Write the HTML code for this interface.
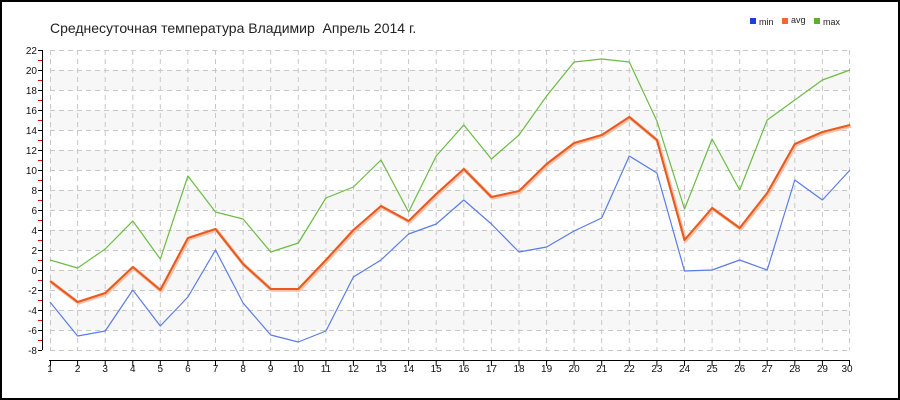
<!DOCTYPE html>
<html><head><meta charset="utf-8"><style>
body{margin:0;background:#fff}
svg{display:block;font-family:"Liberation Sans",sans-serif}
</style></head><body>
<svg width="900" height="400" viewBox="0 0 900 400">
<rect x="1" y="1" width="898" height="398" fill="#fff" stroke="#000" stroke-width="2"/>
<text x="50" y="33" font-size="14" fill="#222" style="white-space:pre">Среднесуточная температура Владимир&#160; Апрель 2014 г.</text>
<g font-size="9" fill="#222">
<rect x="750" y="18" width="6" height="6" fill="#1a3fe0"/><text x="759" y="25">min</text>
<rect x="782" y="18" width="6" height="6" fill="#ee6a2a"/><text x="791" y="23">avg</text>
<rect x="814" y="18" width="6" height="6" fill="#5bb030"/><text x="823" y="25">max</text>
</g>
<g fill="#f7f7f7">
<rect x="50" y="70" width="800" height="20"/><rect x="50" y="110" width="800" height="20"/>
<rect x="50" y="150" width="800" height="20"/><rect x="50" y="190" width="800" height="20"/>
<rect x="50" y="230" width="800" height="20"/><rect x="50" y="270" width="800" height="20"/>
<rect x="50" y="310" width="800" height="20"/>
</g>
<g stroke="#c8c8c8" stroke-width="1" stroke-dasharray="5,4" fill="none">
<path d="M50 50.5H850M50 70.5H850M50 90.5H850M50 110.5H850M50 130.5H850M50 150.5H850M50 170.5H850M50 190.5H850M50 210.5H850M50 230.5H850M50 250.5H850M50 270.5H850M50 290.5H850M50 310.5H850M50 330.5H850M50 350.5H850"/>
<path d="M50.5 50V350M77.6 50V350M105.2 50V350M132.8 50V350M160.3 50V350M187.9 50V350M215.5 50V350M243.1 50V350M270.7 50V350M298.3 50V350M325.9 50V350M353.4 50V350M381 50V350M408.6 50V350M436.2 50V350M463.8 50V350M491.4 50V350M519 50V350M546.6 50V350M574.1 50V350M601.7 50V350M629.3 50V350M656.9 50V350M684.5 50V350M712.1 50V350M739.7 50V350M767.2 50V350M794.8 50V350M822.4 50V350M849.5 50V350"/>
</g>
<g stroke="#000" stroke-width="1" fill="none">
<path d="M42.5 50V350M49 360.5H850"/>
<path d="M38 50.5H42M38 70.5H42M38 90.5H42M38 110.5H42M38 130.5H42M38 150.5H42M38 170.5H42M38 190.5H42M38 210.5H42M38 230.5H42M38 250.5H42M38 270.5H42M38 290.5H42M38 310.5H42M38 330.5H42M38 350.5H42"/>
<path d="M50.5 360V366M77.6 360V366M105.2 360V366M132.8 360V366M160.3 360V366M187.9 360V366M215.5 360V366M243.1 360V366M270.7 360V366M298.3 360V366M325.9 360V366M353.4 360V366M381 360V366M408.6 360V366M436.2 360V366M463.8 360V366M491.4 360V366M519 360V366M546.6 360V366M574.1 360V366M601.7 360V366M629.3 360V366M656.9 360V366M684.5 360V366M712.1 360V366M739.7 360V366M767.2 360V366M794.8 360V366M822.4 360V366M849.5 360V366"/>
</g>
<path stroke="#e00" stroke-width="1" d="M38 60.5H42M38 80.5H42M38 100.5H42M38 120.5H42M38 140.5H42M38 160.5H42M38 180.5H42M38 200.5H42M38 220.5H42M38 240.5H42M38 260.5H42M38 280.5H42M38 300.5H42M38 320.5H42M38 340.5H42"/>
<g font-size="10" fill="#111" text-anchor="end">
<text x="37" y="54">22</text><text x="37" y="74">20</text><text x="37" y="94">18</text><text x="37" y="114">16</text><text x="37" y="134">14</text><text x="37" y="154">12</text><text x="37" y="174">10</text><text x="37" y="194">8</text><text x="37" y="214">6</text><text x="37" y="234">4</text><text x="37" y="254">2</text><text x="37" y="274">0</text><text x="37" y="294">-2</text><text x="37" y="314">-4</text><text x="37" y="334">-6</text><text x="37" y="354">-8</text>
</g>
<g font-size="10" fill="#111" text-anchor="middle">
<text x="50" y="372">1</text><text x="77.6" y="372">2</text><text x="105.2" y="372">3</text><text x="132.8" y="372">4</text><text x="160.3" y="372">5</text><text x="187.9" y="372">6</text><text x="215.5" y="372">7</text><text x="243.1" y="372">8</text><text x="270.7" y="372">9</text><text x="298.3" y="372">10</text><text x="325.9" y="372">11</text><text x="353.4" y="372">12</text><text x="381" y="372">13</text><text x="408.6" y="372">14</text><text x="436.2" y="372">15</text><text x="463.8" y="372">16</text><text x="491.4" y="372">17</text><text x="519" y="372">18</text><text x="546.6" y="372">19</text><text x="574.1" y="372">20</text><text x="601.7" y="372">21</text><text x="629.3" y="372">22</text><text x="656.9" y="372">23</text><text x="684.5" y="372">24</text><text x="712.1" y="372">25</text><text x="739.7" y="372">26</text><text x="767.2" y="372">27</text><text x="794.8" y="372">28</text><text x="822.4" y="372">29</text><text x="847" y="372">30</text>
</g>
<g fill="none" stroke-linejoin="round">
<polyline stroke="#5a7ce8" stroke-width="1.2" points="50,302 77.6,336 105.2,331 132.8,290 160.3,326 187.9,297 215.5,250 243.1,303 270.7,335 298.3,342 325.9,331 353.4,277 381,260 408.6,234 436.2,224 463.8,200 491.4,224 519,252 546.6,247 574.1,231 601.7,218 629.3,156 656.9,173 684.5,271 712.1,270 739.7,260 767.2,270 794.8,180 822.4,200 850,170"/>
<polyline stroke="#6dbb45" stroke-width="1.2" points="50,260 77.6,268 105.2,249 132.8,221 160.3,259 187.9,176 215.5,212 243.1,219 270.7,252 298.3,243 325.9,198 353.4,187 381,160 408.6,212 436.2,156 463.8,125 491.4,159 519,135 546.6,96 574.1,62 601.7,59 629.3,62 656.9,121 684.5,209 712.1,139 739.7,190 767.2,120 794.8,100 822.4,80 850,70"/>
<polyline stroke="#f6c2a8" stroke-width="3.5" transform="translate(1,1)" points="50,281 77.6,302 105.2,293 132.8,267 160.3,290 187.9,238 215.5,229 243.1,264 270.7,289 298.3,289 325.9,260 353.4,230 381,206 408.6,221 436.2,194 463.8,169 491.4,197 519,191 546.6,164 574.1,143 601.7,135 629.3,117 656.9,140 684.5,240 712.1,208 739.7,228 767.2,193 794.8,144 822.4,132 850,125"/>
<polyline stroke="#e85a20" stroke-width="2.1" points="50,281 77.6,302 105.2,293 132.8,267 160.3,290 187.9,238 215.5,229 243.1,264 270.7,289 298.3,289 325.9,260 353.4,230 381,206 408.6,221 436.2,194 463.8,169 491.4,197 519,191 546.6,164 574.1,143 601.7,135 629.3,117 656.9,140 684.5,240 712.1,208 739.7,228 767.2,193 794.8,144 822.4,132 850,125"/>
</g>
</svg>
</body></html>
